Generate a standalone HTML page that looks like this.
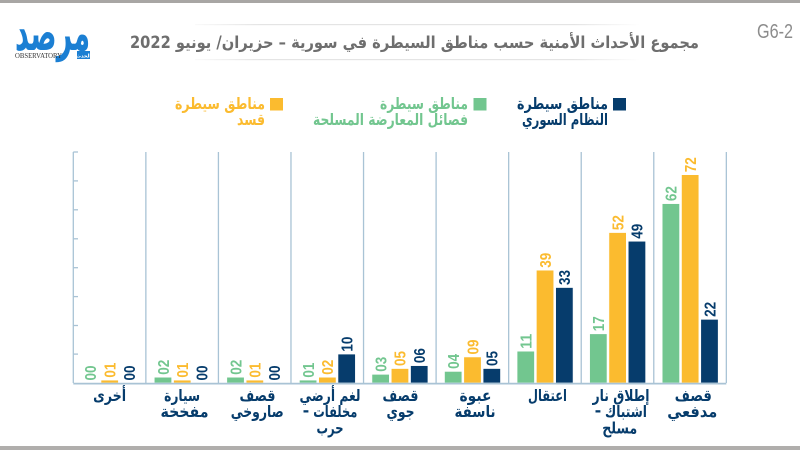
<!DOCTYPE html>
<html><head><meta charset="utf-8"><style>
html,body{margin:0;padding:0;background:#fff;}
svg{display:block;}
.ar{font-family:"DejaVu Sans",sans-serif;font-weight:bold;}
.num{font-family:"Liberation Sans",sans-serif;font-weight:bold;font-size:16px;}
.xl{font-family:"DejaVu Sans",sans-serif;font-weight:bold;font-size:16px;fill:#063c6c;}
</style></head><body>
<svg width="800" height="450" viewBox="0 0 800 450" xmlns="http://www.w3.org/2000/svg">
<defs>
<linearGradient id="fade" x1="0" x2="1" y1="0" y2="0">
<stop offset="0" stop-color="#e4e4e4" stop-opacity="0.2"/>
<stop offset="0.15" stop-color="#e4e4e4"/>
<stop offset="0.85" stop-color="#e4e4e4"/>
<stop offset="1" stop-color="#e4e4e4" stop-opacity="0"/>
</linearGradient>
</defs>
<rect x="0" y="0" width="800" height="3" fill="#a8a6a4"/>
<rect x="0" y="446" width="800" height="4" fill="#b0aeac"/>

<!-- logo -->
<text x="15" y="50" class="ar" font-size="50" fill="#1b7fd3" textLength="75" lengthAdjust="spacingAndGlyphs">مرصد</text>
<text x="15" y="58" font-family="Liberation Serif,serif" font-size="7" fill="#333" textLength="47" lengthAdjust="spacingAndGlyphs">OBSERVATORY</text>
<rect x="77" y="51" width="13" height="8" fill="#1b7fd3"/>
<text x="83.5" y="57.5" text-anchor="middle" class="ar" font-size="5" fill="#fff">الحدث</text>

<!-- title box -->
<rect x="195" y="24" width="445" height="1.2" fill="url(#fade)"/>
<rect x="195" y="59" width="445" height="1.2" fill="url(#fade)"/>
<text x="699" y="48" direction="rtl" text-anchor="start" class="ar" font-size="16.5" fill="#6e6e6e" textLength="569" lengthAdjust="spacingAndGlyphs">مجموع الأحداث الأمنية حسب مناطق السيطرة في سورية – حزيران/ يونيو 2022</text>
<text x="757" y="38" font-family="Liberation Sans Narrow,Liberation Sans,sans-serif" font-size="20" fill="#8c8c8c" textLength="36" lengthAdjust="spacingAndGlyphs">G6-2</text>

<!-- legend -->
<rect x="613" y="98" width="13" height="12.5" fill="#063c6c"/>
<text x="608" y="109" text-anchor="end" class="ar" font-size="16" fill="#063c6c" textLength="91" lengthAdjust="spacingAndGlyphs">مناطق سيطرة</text>
<text x="608" y="125" text-anchor="end" class="ar" font-size="16" fill="#063c6c" textLength="86" lengthAdjust="spacingAndGlyphs">النظام السوري</text>
<rect x="473.5" y="98" width="13" height="12.5" fill="#72c68f"/>
<text x="468" y="109" text-anchor="end" class="ar" font-size="16" fill="#72c68f" textLength="88" lengthAdjust="spacingAndGlyphs">مناطق سيطرة</text>
<text x="468" y="125" text-anchor="end" class="ar" font-size="16" fill="#72c68f" textLength="155" lengthAdjust="spacingAndGlyphs">فصائل المعارضة المسلحة</text>
<rect x="270" y="98" width="13" height="12.5" fill="#fbbb2f"/>
<text x="265" y="109" text-anchor="end" class="ar" font-size="16" fill="#fbbb2f" textLength="90" lengthAdjust="spacingAndGlyphs">مناطق سيطرة</text>
<text x="265" y="125" text-anchor="end" class="ar" font-size="16" fill="#fbbb2f" textLength="28" lengthAdjust="spacingAndGlyphs">قسد</text>

<!-- axes -->
<g stroke="#a9c3d5" stroke-width="1.3" fill="none">
<line x1="73.3" y1="152" x2="73.3" y2="383"/>
<line x1="145.86" y1="152" x2="145.86" y2="383"/>
<line x1="218.42" y1="152" x2="218.42" y2="383"/>
<line x1="290.98" y1="152" x2="290.98" y2="383"/>
<line x1="363.54" y1="152" x2="363.54" y2="383"/>
<line x1="436.1" y1="152" x2="436.1" y2="383"/>
<line x1="508.66" y1="152" x2="508.66" y2="383"/>
<line x1="581.22" y1="152" x2="581.22" y2="383"/>
<line x1="653.78" y1="152" x2="653.78" y2="383"/>
<line x1="726.34" y1="152" x2="726.34" y2="383"/>
<line x1="73.3" y1="152" x2="78" y2="152"/>
<line x1="73.3" y1="180.9" x2="78" y2="180.9"/>
<line x1="73.3" y1="209.8" x2="78" y2="209.8"/>
<line x1="73.3" y1="238.8" x2="78" y2="238.8"/>
<line x1="73.3" y1="267.7" x2="78" y2="267.7"/>
<line x1="73.3" y1="296.6" x2="78" y2="296.6"/>
<line x1="73.3" y1="325.5" x2="78" y2="325.5"/>
<line x1="73.3" y1="354.1" x2="78" y2="354.1"/>
</g>

<!-- bars -->
<g stroke="#ffffff" stroke-width="0.6">
<rect x="101" y="380.11" width="17.4" height="2.89" fill="#fbbb2f"/>
<rect x="154.26" y="377.21" width="17.4" height="5.79" fill="#72c68f"/>
<rect x="173.56" y="380.11" width="17.4" height="2.89" fill="#fbbb2f"/>
<rect x="226.82" y="377.21" width="17.4" height="5.79" fill="#72c68f"/>
<rect x="246.12" y="380.11" width="17.4" height="2.89" fill="#fbbb2f"/>
<rect x="299.38" y="380.11" width="17.4" height="2.89" fill="#72c68f"/>
<rect x="318.68" y="377.21" width="17.4" height="5.79" fill="#fbbb2f"/>
<rect x="337.98" y="354.07" width="17.4" height="28.93" fill="#063c6c"/>
<rect x="371.94" y="374.32" width="17.4" height="8.68" fill="#72c68f"/>
<rect x="391.24" y="368.53" width="17.4" height="14.47" fill="#fbbb2f"/>
<rect x="410.54" y="365.64" width="17.4" height="17.36" fill="#063c6c"/>
<rect x="444.5" y="371.43" width="17.4" height="11.57" fill="#72c68f"/>
<rect x="463.8" y="356.96" width="17.4" height="26.04" fill="#fbbb2f"/>
<rect x="483.1" y="368.53" width="17.4" height="14.47" fill="#063c6c"/>
<rect x="517.06" y="351.18" width="17.4" height="31.82" fill="#72c68f"/>
<rect x="536.36" y="270.17" width="17.4" height="112.83" fill="#fbbb2f"/>
<rect x="555.66" y="287.53" width="17.4" height="95.47" fill="#063c6c"/>
<rect x="589.62" y="333.82" width="17.4" height="49.18" fill="#72c68f"/>
<rect x="608.92" y="232.56" width="17.4" height="150.44" fill="#fbbb2f"/>
<rect x="628.22" y="241.24" width="17.4" height="141.76" fill="#063c6c"/>
<rect x="662.18" y="203.63" width="17.4" height="179.37" fill="#72c68f"/>
<rect x="681.48" y="174.7" width="17.4" height="208.3" fill="#fbbb2f"/>
<rect x="700.78" y="319.35" width="17.4" height="63.65" fill="#063c6c"/>
</g>
<line x1="73.3" y1="383.6" x2="726.34" y2="383.6" stroke="#a9c3d5" stroke-width="1.8"/>

<!-- value labels -->
<g class="num">
<text transform="translate(96.2,380.5) rotate(-90)" fill="#72c68f" textLength="15" lengthAdjust="spacingAndGlyphs">00</text>
<text transform="translate(115.5,377.6) rotate(-90)" fill="#fbbb2f" textLength="15" lengthAdjust="spacingAndGlyphs">01</text>
<text transform="translate(134.8,380.5) rotate(-90)" fill="#063c6c" textLength="15" lengthAdjust="spacingAndGlyphs">00</text>

<text transform="translate(168.76,374.7) rotate(-90)" fill="#72c68f" textLength="15" lengthAdjust="spacingAndGlyphs">02</text>
<text transform="translate(188.06,377.6) rotate(-90)" fill="#fbbb2f" textLength="15" lengthAdjust="spacingAndGlyphs">01</text>
<text transform="translate(207.36,380.5) rotate(-90)" fill="#063c6c" textLength="15" lengthAdjust="spacingAndGlyphs">00</text>

<text transform="translate(241.32,374.7) rotate(-90)" fill="#72c68f" textLength="15" lengthAdjust="spacingAndGlyphs">02</text>
<text transform="translate(260.62,377.6) rotate(-90)" fill="#fbbb2f" textLength="15" lengthAdjust="spacingAndGlyphs">01</text>
<text transform="translate(279.92,380.5) rotate(-90)" fill="#063c6c" textLength="15" lengthAdjust="spacingAndGlyphs">00</text>

<text transform="translate(313.88,377.6) rotate(-90)" fill="#72c68f" textLength="15" lengthAdjust="spacingAndGlyphs">01</text>
<text transform="translate(333.18,374.7) rotate(-90)" fill="#fbbb2f" textLength="15" lengthAdjust="spacingAndGlyphs">02</text>
<text transform="translate(352.48,351.6) rotate(-90)" fill="#063c6c" textLength="15" lengthAdjust="spacingAndGlyphs">10</text>

<text transform="translate(386.44,371.8) rotate(-90)" fill="#72c68f" textLength="15" lengthAdjust="spacingAndGlyphs">03</text>
<text transform="translate(405.74,366) rotate(-90)" fill="#fbbb2f" textLength="15" lengthAdjust="spacingAndGlyphs">05</text>
<text transform="translate(425.04,363.1) rotate(-90)" fill="#063c6c" textLength="15" lengthAdjust="spacingAndGlyphs">06</text>

<text transform="translate(459,368.9) rotate(-90)" fill="#72c68f" textLength="15" lengthAdjust="spacingAndGlyphs">04</text>
<text transform="translate(478.3,354.5) rotate(-90)" fill="#fbbb2f" textLength="15" lengthAdjust="spacingAndGlyphs">09</text>
<text transform="translate(497.6,366) rotate(-90)" fill="#063c6c" textLength="15" lengthAdjust="spacingAndGlyphs">05</text>

<text transform="translate(531.56,348.7) rotate(-90)" fill="#72c68f" textLength="15" lengthAdjust="spacingAndGlyphs">11</text>
<text transform="translate(550.86,267.7) rotate(-90)" fill="#fbbb2f" textLength="15" lengthAdjust="spacingAndGlyphs">39</text>
<text transform="translate(570.16,285) rotate(-90)" fill="#063c6c" textLength="15" lengthAdjust="spacingAndGlyphs">33</text>

<text transform="translate(604.12,331.3) rotate(-90)" fill="#72c68f" textLength="15" lengthAdjust="spacingAndGlyphs">17</text>
<text transform="translate(623.42,230.1) rotate(-90)" fill="#fbbb2f" textLength="15" lengthAdjust="spacingAndGlyphs">52</text>
<text transform="translate(642.72,238.7) rotate(-90)" fill="#063c6c" textLength="15" lengthAdjust="spacingAndGlyphs">49</text>

<text transform="translate(676.68,201.1) rotate(-90)" fill="#72c68f" textLength="15" lengthAdjust="spacingAndGlyphs">62</text>
<text transform="translate(695.98,172.2) rotate(-90)" fill="#fbbb2f" textLength="15" lengthAdjust="spacingAndGlyphs">72</text>
<text transform="translate(715.28,316.9) rotate(-90)" fill="#063c6c" textLength="15" lengthAdjust="spacingAndGlyphs">22</text>
</g>

<!-- x labels -->
<g class="xl" text-anchor="middle">
<text x="109.6" y="401" textLength="33" lengthAdjust="spacingAndGlyphs">أخرى</text>

<text x="182.1" y="401" textLength="36" lengthAdjust="spacingAndGlyphs">سيارة</text>
<text x="184.5" y="417" textLength="48" lengthAdjust="spacingAndGlyphs">مفخخة</text>

<text x="257.5" y="401" textLength="36" lengthAdjust="spacingAndGlyphs">قصف</text>
<text x="257.2" y="417" textLength="53" lengthAdjust="spacingAndGlyphs">صاروخي</text>

<text x="330" y="401" textLength="61" lengthAdjust="spacingAndGlyphs">لغم أرضي</text>
<text x="335.3" y="417" textLength="44" lengthAdjust="spacingAndGlyphs">مخلفات</text>
<text x="306" y="416">-</text>
<text x="330" y="433.5" textLength="27" lengthAdjust="spacingAndGlyphs">حرب</text>

<text x="400.5" y="401" textLength="36" lengthAdjust="spacingAndGlyphs">قصف</text>
<text x="400.5" y="417" textLength="28" lengthAdjust="spacingAndGlyphs">جوي</text>

<text x="475.5" y="401" textLength="32" lengthAdjust="spacingAndGlyphs">عبوة</text>
<text x="475" y="417" textLength="41" lengthAdjust="spacingAndGlyphs">ناسفة</text>

<text x="547.5" y="401" textLength="39" lengthAdjust="spacingAndGlyphs">اعتقال</text>

<text x="621" y="401" textLength="57" lengthAdjust="spacingAndGlyphs">إطلاق نار</text>
<text x="626" y="417" textLength="42" lengthAdjust="spacingAndGlyphs">اشتباك</text>
<text x="598" y="416">-</text>
<text x="619.7" y="433.5" textLength="35" lengthAdjust="spacingAndGlyphs">مسلح</text>

<text x="693.3" y="401" textLength="37" lengthAdjust="spacingAndGlyphs">قصف</text>
<text x="692.3" y="417" textLength="50" lengthAdjust="spacingAndGlyphs">مدفعي</text>
</g>
</svg>
</body></html>
